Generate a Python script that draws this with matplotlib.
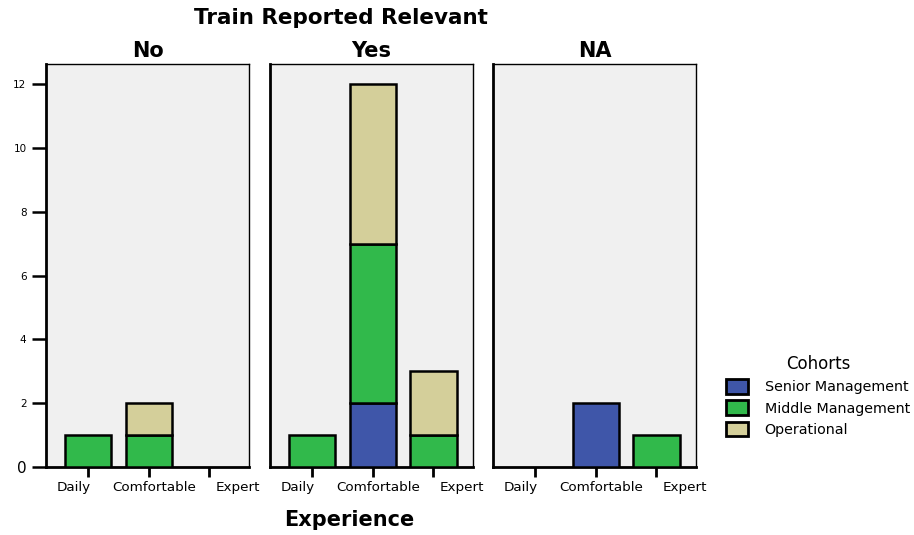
import matplotlib
matplotlib.use("Agg")
import matplotlib.pyplot as plt
import matplotlib.transforms as mtransforms
from matplotlib.patches import Patch
import numpy as np

plt.rcParams['font.family'] = ['DejaVu Sans']

# Data
panels = ["No", "Yes", "NA"]
experience = ["Daily", "Comfortable", "Expert"]
cohorts = ["Senior Management", "Middle Management", "Operational"]
colors = ["#3F56A9", "#31B94B", "#D4CF9A"]

# counts per cohort, per panel, per experience level
senior = {"No": [0, 0, 0], "Yes": [0, 2, 0], "NA": [0, 2, 0]}
middle = {"No": [1, 1, 0], "Yes": [1, 5, 1], "NA": [0, 0, 1]}
operational = {"No": [0, 1, 0], "Yes": [0, 5, 2], "NA": [0, 0, 0]}
yticks = [0, 2, 4, 6, 8, 10, 12]

W, H = 914, 535
fig = plt.figure(figsize=(W / 100, H / 100), dpi=100)

lefts = [46, 270, 493]
pw = 203
top, bottom = 64, 467
bg = "#F0F0F0"
label_shift = [-14, 5, 28]


def shift(text, dx, dy=0):
    text.set_transform(text.get_transform() +
                       mtransforms.ScaledTranslation(dx / 100, dy / 100, fig.dpi_scale_trans))


x = np.arange(len(experience))
for i, (name, lx) in enumerate(zip(panels, lefts)):
    ax = fig.add_axes([lx / W, 1 - bottom / H, pw / W, (bottom - top) / H])
    ax.set_facecolor(bg)
    base = np.zeros(len(experience))
    for series, col in zip([senior, middle, operational], colors):
        vals = np.array(series[name], dtype=float)
        mask = vals > 0
        ax.bar(x[mask], vals[mask], width=0.76, bottom=base[mask], color=col,
               edgecolor="black", linewidth=1.8, zorder=3)
        base += vals
    ax.set_xlim(-0.69, 2.65)
    ax.set_ylim(0, 12.63)
    for s in ["top", "right"]:
        ax.spines[s].set_linewidth(1.0)
    for s in ["left", "bottom"]:
        ax.spines[s].set_linewidth(2.0)
    ax.set_xticks(x)
    ax.set_xticklabels(experience, fontsize=9.7)
    ax.tick_params(axis="x", length=7, width=2, pad=3)
    for lab, dx in zip(ax.get_xticklabels(), label_shift):
        shift(lab, dx)
    if i == 0:
        ax.set_yticks(yticks)
        ax.set_yticklabels([str(v) for v in yticks], fontsize=7.5)
        zero = ax.get_yticklabels()[0]
        zero.set_fontsize(11)
        shift(zero, 3)
        ax.tick_params(axis="y", length=10, width=1.8, pad=4)
    else:
        ax.set_yticks([])
    ax.set_title(name, fontsize=15, fontweight="bold", pad=5)

fig.text(341 / W, 1 - 18 / H, "Train Reported Relevant", ha="center", va="center",
         fontsize=15.5, fontweight="bold")
fig.text(349 / W, 1 - 520 / H, "Experience", ha="center", va="center",
         fontsize=15, fontweight="bold")

handles = [Patch(facecolor=c, edgecolor="black", linewidth=2) for c in colors]
leg = fig.legend(handles, cohorts, title="Cohorts", loc="center",
                 bbox_to_anchor=(818 / W, 1 - 396 / H), frameon=False,
                 fontsize=10.3, title_fontsize=12, handlelength=1.5,
                 handleheight=1.2, labelspacing=0.42, handletextpad=1.2)

fig.savefig("out.png", dpi=100)
